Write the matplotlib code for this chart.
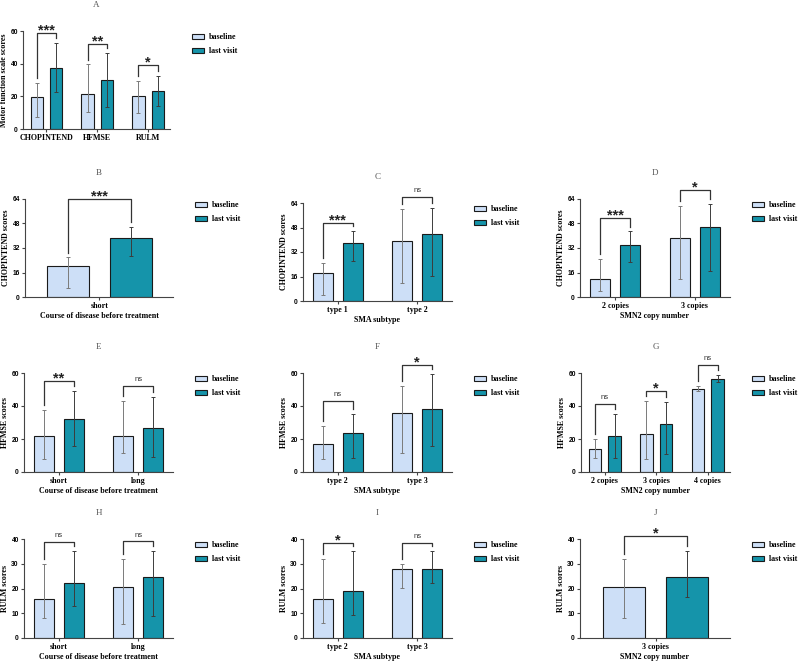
import numpy as np
import matplotlib
matplotlib.use('Agg')
import matplotlib.pyplot as plt
from matplotlib.patches import Patch

# ---- data (bar = mean, range = error bar low/high) ----
A_cats = ['CHOPINTEND', 'HFMSE', 'RULM']
A_base = [19.5, 21.5, 19.9]
A_base_rng = [(7.3, 28.0), (10.3, 39.5), (9.7, 29.4)]
A_last = [37.5, 30.0, 23.5]
A_last_rng = [(22.9, 52.7), (13.4, 46.8), (14.2, 32.4)]
A_sig = ['***', '**', '*']
A_brk = [59.0, 52.3, 39.0]

B_cats = ['short']
B_base = [20.4]
B_base_rng = [(5.9, 25.8)]
B_last = [38.4]
B_last_rng = [(26.5, 46.0)]
B_sig = ['***']
B_brk = [64.0]

C_cats = ['type 1', 'type 2']
C_base = [18.5, 39.0]
C_base_rng = [(3.7, 24.8), (11.8, 60.3)]
C_last = [37.7, 44.0]
C_last_rng = [(25.9, 45.9), (16.3, 61.0)]
C_sig = ['***', 'ns']
C_brk = [51.2, 67.9]

D_cats = ['2 copies', '3 copies']
D_base = [11.7, 38.3]
D_base_rng = [(4.1, 24.6), (11.7, 59.7)]
D_last = [33.9, 45.4]
D_last_rng = [(22.7, 42.8), (17.1, 61.0)]
D_sig = ['***', '*']
D_brk = [51.9, 69.6]

E_cats = ['short', 'long']
E_base = [21.6, 21.6]
E_base_rng = [(8.1, 37.8), (11.7, 43.0)]
E_last = [32.1, 26.9]
E_last_rng = [(16.0, 48.9), (9.1, 45.5)]
E_sig = ['**', 'ns']
E_brk = [55.2, 51.9]

F_cats = ['type 2', 'type 3']
F_base = [16.7, 35.6]
F_base_rng = [(8.1, 28.1), (11.8, 51.9)]
F_last = [23.8, 38.0]
F_last_rng = [(8.7, 35.0), (15.9, 59.4)]
F_sig = ['ns', '*']
F_brk = [43.3, 64.7]

G_cats = ['2 copies', '3 copies', '4 copies']
G_base = [14.2, 22.8, 50.4]
G_base_rng = [(8.7, 20.1), (8.1, 43.1), (48.8, 51.9)]
G_last = [21.6, 29.3, 56.5]
G_last_rng = [(8.7, 35.0), (10.8, 42.5), (54.3, 59.0)]
G_sig = ['ns', '*', 'ns']
G_brk = [41.1, 48.8, 64.7]

H_cats = ['short', 'long']
H_base = [15.7, 20.7]
H_base_rng = [(7.9, 29.8), (5.8, 31.9)]
H_last = [22.4, 24.8]
H_last_rng = [(13.0, 35.0), (8.8, 35.0)]
H_sig = ['ns', 'ns']
H_brk = [38.8, 39.0]

I_cats = ['type 2', 'type 3']
I_base = [15.8, 27.9]
I_base_rng = [(6.0, 31.9), (20.1, 29.8)]
I_last = [18.8, 27.9]
I_last_rng = [(9.1, 35.2), (22.1, 35.2)]
I_sig = ['*', 'ns']
I_brk = [38.3, 38.3]

J_cats = ['3 copies']
J_base = [20.7]
J_base_rng = [(7.9, 31.9)]
J_last = [24.8]
J_last_rng = [(16.7, 35.0)]
J_sig = ['*']
J_brk = [41.1]

series_names = ['baseline', 'last visit']
BASE_COLOR = '#cddff7'
LAST_COLOR = '#1594aa'
W, H = 798, 664
SERIF = 'Liberation Serif'
SANS = 'Liberation Sans'


def pxAxes(fig, x0, x1, y0, y1):
    return fig.add_axes([x0 / W, 1 - y1 / H, (x1 - x0) / W, (y1 - y0) / H])


def drawPanel(fig, box, letter, cats, base, base_rng, last, last_rng, sig, brk,
              ymax, step, ylabel, xlabel):
    ax = pxAxes(fig, *box)
    n = len(cats)
    hpx = box[3] - box[2]
    if n == 1:
        off, width, xlim = 0.315, 0.42, (-0.75, 0.74)
    elif n == 2:
        off, width, xlim = 0.19, 0.25, (-0.44, 1.44)
    else:
        off, width, xlim = 0.19, 0.24, (-0.46, 2.43)
    x = np.arange(n)

    for xs, vals, rng, col, ecol in [(x - off, base, base_rng, BASE_COLOR, '#7a7a7a'),
                                     (x + off, last, last_rng, LAST_COLOR, '#3c3c3c')]:
        ax.bar(xs, vals, width, color=col, edgecolor='#1a1a1a', linewidth=0.8, zorder=2)
        lo = [v - r[0] for v, r in zip(vals, rng)]
        hi = [r[1] - v for v, r in zip(vals, rng)]
        ax.errorbar(xs, vals, yerr=[lo, hi], fmt='none', ecolor=ecol,
                    elinewidth=0.7, capsize=1.3, capthick=0.7, zorder=3)

    # significance brackets
    for i in range(n):
        y = brk[i]
        l1 = min(base_rng[i][1] + 0.05 * ymax, y - 0.03 * ymax)
        l2 = min(last_rng[i][1] + 0.05 * ymax, y - 0.03 * ymax)
        ax.plot([x[i] - off, x[i] - off, x[i] + off, x[i] + off], [l1, y, y, l2],
                color='#333333', lw=0.9, clip_on=False, zorder=4)
        if sig[i] == 'ns':
            ax.text(x[i], y + 0.05 * ymax, 'ns', ha='center', va='baseline',
                    fontsize=5.5, family=SANS, color='#333333', clip_on=False)
        else:
            ax.text(x[i], y - 0.015 * ymax, sig[i], ha='center', va='baseline',
                    fontsize=10.5, family=SANS, fontweight='bold', color='#222222',
                    clip_on=False)

    ax.set_xlim(*xlim)
    ax.set_ylim(0, ymax)
    ax.set_yticks(np.arange(0, ymax + 1, step))
    ax.set_xticks(x)
    ax.set_xticklabels(cats, family=SERIF, fontweight='bold', fontsize=5.8)
    for lab in ax.get_yticklabels():
        lab.set_family(SANS)
        lab.set_fontweight('bold')
        lab.set_fontsize(4.8)
    ax.tick_params(axis='both', direction='out', length=2.2, width=0.8,
                   color='#444444', pad=1.5)
    for s in ['top', 'right']:
        ax.spines[s].set_visible(False)
    for s in ['left', 'bottom']:
        ax.spines[s].set_color('#444444')
        ax.spines[s].set_linewidth(0.8)

    ax.set_ylabel(ylabel, family=SERIF, fontweight='bold', fontsize=5.8, labelpad=1.5)
    if xlabel:
        ax.set_xlabel(xlabel, family=SERIF, fontweight='bold', fontsize=5.8, labelpad=1.5)
    ax.text(0.5, 1 + 26 / hpx, letter, transform=ax.transAxes, ha='center',
            va='center', family=SERIF, fontsize=6.5, color='#555555')

    wpx = box[1] - box[0]
    handles = [Patch(facecolor=BASE_COLOR, edgecolor='#1a1a1a', linewidth=0.8),
               Patch(facecolor=LAST_COLOR, edgecolor='#1a1a1a', linewidth=0.8)]
    ax.legend(handles, series_names, loc='upper left',
              bbox_to_anchor=(1 + 22 / wpx, 1 - 2 / hpx), frameon=False,
              prop={'family': SERIF, 'weight': 'bold', 'size': 5.8},
              handlelength=1.5, handleheight=0.55, handletextpad=0.6,
              labelspacing=0.75, borderpad=0, borderaxespad=0)
    return ax


def main():
    fig = plt.figure(figsize=(W / 100, H / 100), dpi=100)
    course = 'Course of disease before treatment'
    subtype = 'SMA subtype'
    copies = 'SMN2 copy number'

    drawPanel(fig, (23, 170, 31, 129), 'A', A_cats, A_base, A_base_rng, A_last, A_last_rng,
              A_sig, A_brk, 60, 20, 'Motor function scale scores', None)
    drawPanel(fig, (25, 173, 199, 297), 'B', B_cats, B_base, B_base_rng, B_last, B_last_rng,
              B_sig, B_brk, 64, 16, 'CHOPINTEND scores', course)
    drawPanel(fig, (303, 452, 203, 301), 'C', C_cats, C_base, C_base_rng, C_last, C_last_rng,
              C_sig, C_brk, 64, 16, 'CHOPINTEND scores', subtype)
    drawPanel(fig, (580, 730, 199, 297), 'D', D_cats, D_base, D_base_rng, D_last, D_last_rng,
              D_sig, D_brk, 64, 16, 'CHOPINTEND scores', copies)
    drawPanel(fig, (24, 173, 373, 472), 'E', E_cats, E_base, E_base_rng, E_last, E_last_rng,
              E_sig, E_brk, 60, 20, 'HFMSE scores', course)
    drawPanel(fig, (303, 452, 373, 472), 'F', F_cats, F_base, F_base_rng, F_last, F_last_rng,
              F_sig, F_brk, 60, 20, 'HFMSE scores', subtype)
    drawPanel(fig, (581, 730, 373, 472), 'G', G_cats, G_base, G_base_rng, G_last, G_last_rng,
              G_sig, G_brk, 60, 20, 'HFMSE scores', copies)
    drawPanel(fig, (24, 173, 539, 638), 'H', H_cats, H_base, H_base_rng, H_last, H_last_rng,
              H_sig, H_brk, 40, 10, 'RULM scores', course)
    drawPanel(fig, (303, 452, 539, 638), 'I', I_cats, I_base, I_base_rng, I_last, I_last_rng,
              I_sig, I_brk, 40, 10, 'RULM scores', subtype)
    drawPanel(fig, (580, 730, 539, 638), 'J', J_cats, J_base, J_base_rng, J_last, J_last_rng,
              J_sig, J_brk, 40, 10, 'RULM scores', copies)

    fig.savefig('out.png', dpi=100)


main()
